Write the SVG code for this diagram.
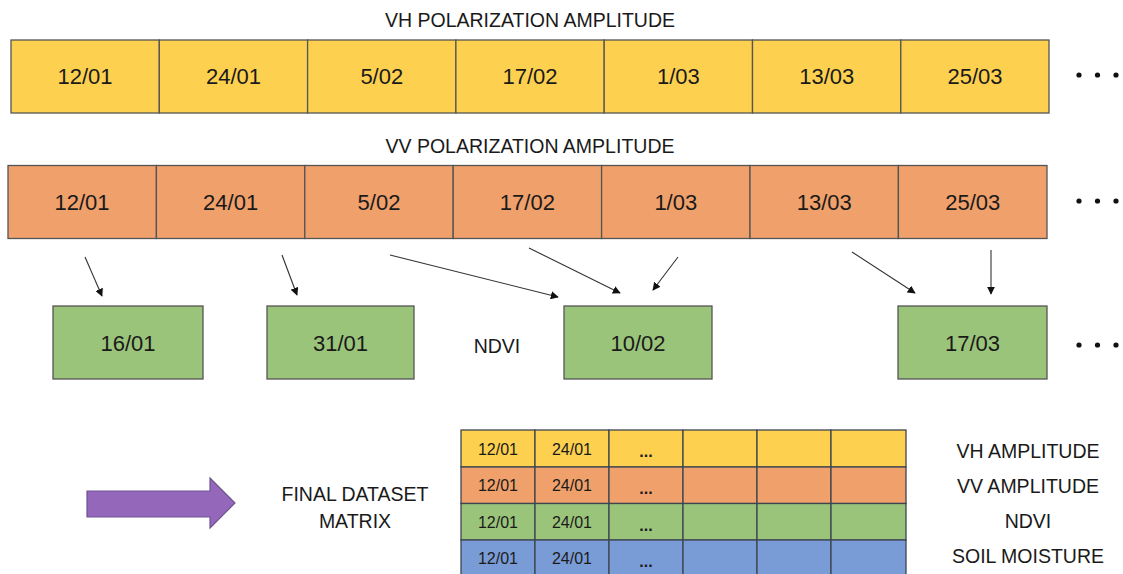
<svg xmlns="http://www.w3.org/2000/svg" width="1123" height="574" viewBox="0 0 1123 574">
<style>
text{font-family:"Liberation Sans",Arial,sans-serif;fill:#1a1a1a;text-anchor:middle}
.t{font-size:19.5px}
.d{font-size:22px}
.m{font-size:16px}
.b{font-weight:bold}
.cell{stroke:#555;stroke-width:1.3}
.y{fill:#FDD14F}
.o{fill:#EFA06B}
.g{fill:#9BC47B}
.bl{fill:#7A9CD6}
.mc{stroke:#3d4650;stroke-width:1.3}
.con{stroke:#333;stroke-width:1.1;fill:none;marker-end:url(#ah)}
.dot{fill:#111}
</style>
<defs>
<marker id="ah" viewBox="0 0 10 10" refX="9" refY="5" markerWidth="8" markerHeight="8" markerUnits="userSpaceOnUse" orient="auto">
<path d="M0,0 L10,5 L0,10 z" fill="#111"/>
</marker>
</defs>

<text class="t" x="530" y="27">VH POLARIZATION AMPLITUDE</text>
<g id="vh">
<rect class="cell y" x="11" y="40" width="148.3" height="73"/>
<rect class="cell y" x="159.3" y="40" width="148.3" height="73"/>
<rect class="cell y" x="307.6" y="40" width="148.3" height="73"/>
<rect class="cell y" x="455.9" y="40" width="148.3" height="73"/>
<rect class="cell y" x="604.2" y="40" width="148.3" height="73"/>
<rect class="cell y" x="752.5" y="40" width="148.3" height="73"/>
<rect class="cell y" x="900.8" y="40" width="148.2" height="73"/>
<text class="d" x="85" y="84">12/01</text>
<text class="d" x="233.5" y="84">24/01</text>
<text class="d" x="381.8" y="84">5/02</text>
<text class="d" x="530" y="84">17/02</text>
<text class="d" x="678.4" y="84">1/03</text>
<text class="d" x="826.7" y="84">13/03</text>
<text class="d" x="975" y="84">25/03</text>
<circle class="dot" cx="1079" cy="75" r="2.6"/><circle class="dot" cx="1097.5" cy="75" r="2.6"/><circle class="dot" cx="1116" cy="75" r="2.6"/>
</g>

<text class="t" x="530" y="153">VV POLARIZATION AMPLITUDE</text>
<g id="vv">
<rect class="cell o" x="8" y="165.5" width="148.4" height="73"/>
<rect class="cell o" x="156.4" y="165.5" width="148.4" height="73"/>
<rect class="cell o" x="304.8" y="165.5" width="148.4" height="73"/>
<rect class="cell o" x="453.2" y="165.5" width="148.4" height="73"/>
<rect class="cell o" x="601.6" y="165.5" width="148.4" height="73"/>
<rect class="cell o" x="750" y="165.5" width="148.4" height="73"/>
<rect class="cell o" x="898.4" y="165.5" width="148.6" height="73"/>
<text class="d" x="82" y="210">12/01</text>
<text class="d" x="230.6" y="210">24/01</text>
<text class="d" x="379" y="210">5/02</text>
<text class="d" x="527.4" y="210">17/02</text>
<text class="d" x="675.8" y="210">1/03</text>
<text class="d" x="824.2" y="210">13/03</text>
<text class="d" x="972.7" y="210">25/03</text>
<circle class="dot" cx="1079" cy="201" r="2.6"/><circle class="dot" cx="1097.5" cy="201" r="2.6"/><circle class="dot" cx="1116" cy="201" r="2.6"/>
</g>

<g id="ndvi-1601"><rect class="cell g" x="53" y="306" width="150" height="73"/><text class="d" x="128" y="351">16/01</text></g>
<g id="ndvi-3101"><rect class="cell g" x="267" y="306" width="147" height="73"/><text class="d" x="340.5" y="351">31/01</text></g>
<g id="ndvi-label"><text class="t" x="497" y="353">NDVI</text></g>
<g id="ndvi-1002"><rect class="cell g" x="564" y="306" width="148" height="73"/><text class="d" x="638" y="351">10/02</text></g>
<g id="ndvi-1703"><rect class="cell g" x="898" y="306" width="149" height="73"/><text class="d" x="972.5" y="351">17/03</text></g>
<g id="ndvi-dots"><circle class="dot" cx="1079" cy="345" r="2.6"/><circle class="dot" cx="1097.5" cy="345" r="2.6"/><circle class="dot" cx="1116" cy="345" r="2.6"/></g>

<g id="connectors">
<line class="con" x1="85" y1="257" x2="102" y2="296"/>
<line class="con" x1="282" y1="255" x2="297" y2="295"/>
<line class="con" x1="390" y1="255" x2="558" y2="297"/>
<line class="con" x1="529" y1="248" x2="620" y2="293"/>
<line class="con" x1="678" y1="257" x2="653" y2="290"/>
<line class="con" x1="852" y1="252" x2="915" y2="293"/>
<line class="con" x1="991" y1="250" x2="991" y2="294"/>
</g>

<g id="big-arrow">
<path d="M87,491 L210,491 L210,478 L235,503 L210,528 L210,517 L87,517 z" fill="#9467BB" stroke="#6E5490" stroke-width="1.2"/>
</g>
<g id="final-label">
<text class="t" x="355" y="501">FINAL DATASET</text>
<text class="t" x="355" y="528">MATRIX</text>
</g>

<g id="matrix">
<g class="mc y">
<rect x="461" y="430" width="74" height="37"/><rect x="535" y="430" width="74" height="37"/><rect x="609" y="430" width="74" height="37"/><rect x="683" y="430" width="74" height="37"/><rect x="757" y="430" width="74" height="37"/><rect x="831" y="430" width="75" height="37"/>
</g>
<g class="mc o">
<rect x="461" y="467" width="74" height="36.5"/><rect x="535" y="467" width="74" height="36.5"/><rect x="609" y="467" width="74" height="36.5"/><rect x="683" y="467" width="74" height="36.5"/><rect x="757" y="467" width="74" height="36.5"/><rect x="831" y="467" width="75" height="36.5"/>
</g>
<g class="mc g">
<rect x="461" y="503.5" width="74" height="36.5"/><rect x="535" y="503.5" width="74" height="36.5"/><rect x="609" y="503.5" width="74" height="36.5"/><rect x="683" y="503.5" width="74" height="36.5"/><rect x="757" y="503.5" width="74" height="36.5"/><rect x="831" y="503.5" width="75" height="36.5"/>
</g>
<g class="mc bl">
<rect x="461" y="540" width="74" height="40"/><rect x="535" y="540" width="74" height="40"/><rect x="609" y="540" width="74" height="40"/><rect x="683" y="540" width="74" height="40"/><rect x="757" y="540" width="74" height="40"/><rect x="831" y="540" width="75" height="40"/>
</g>
<text class="m" x="498" y="455">12/01</text><text class="m" x="572" y="455">24/01</text><text class="m b" x="646" y="457">...</text>
<text class="m" x="498" y="491">12/01</text><text class="m" x="572" y="491">24/01</text><text class="m b" x="646" y="494">...</text>
<text class="m" x="498" y="528">12/01</text><text class="m" x="572" y="528">24/01</text><text class="m b" x="646" y="531">...</text>
<text class="m" x="498" y="564">12/01</text><text class="m" x="572" y="564">24/01</text><text class="m b" x="646" y="567">...</text>
</g>

<g id="legend">
<text class="t" x="1028" y="458">VH AMPLITUDE</text>
<text class="t" x="1028" y="493">VV AMPLITUDE</text>
<text class="t" x="1028" y="528">NDVI</text>
<text class="t" x="1028" y="563">SOIL MOISTURE</text>
</g>
</svg>
